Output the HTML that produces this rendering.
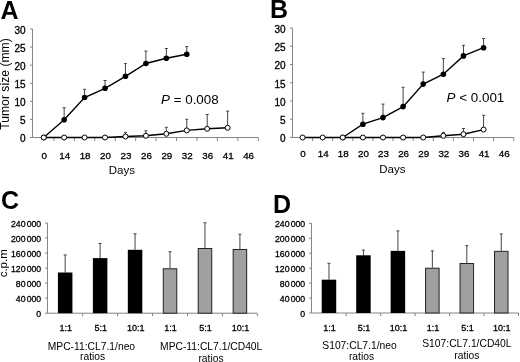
<!DOCTYPE html><html><head><meta charset="utf-8"><style>html,body{margin:0;padding:0;background:#fff;}svg{display:block;filter:blur(0.3px);} text.t{stroke:#000;stroke-width:0.3px;}</style></head><body>
<svg width="520" height="362" viewBox="0 0 520 362" font-family='"Liberation Sans", sans-serif' fill="#000">
<rect width="520" height="362" fill="#fff"/>
<text x="0.5" y="18.8" font-size="25" text-anchor="start" font-weight="bold" font-style="normal" >A</text>
<text x="270" y="17.8" font-size="25" text-anchor="start" font-weight="bold" font-style="normal" >B</text>
<text x="1" y="208.6" font-size="25" text-anchor="start" font-weight="bold" font-style="normal" >C</text>
<text x="273" y="213.4" font-size="25" text-anchor="start" font-weight="bold" font-style="normal" >D</text>
<line x1="32.5" y1="29" x2="32.5" y2="137.5" stroke="#858585" stroke-width="1"/>
<line x1="30" y1="137.5" x2="32.5" y2="137.5" stroke="#858585" stroke-width="1"/>
<text x="25.5" y="142.4" font-size="10" text-anchor="end" font-weight="normal" font-style="normal" class="t">0</text>
<line x1="30" y1="119.42" x2="32.5" y2="119.42" stroke="#858585" stroke-width="1"/>
<text x="25.5" y="124.32" font-size="10" text-anchor="end" font-weight="normal" font-style="normal" class="t">5</text>
<line x1="30" y1="101.33" x2="32.5" y2="101.33" stroke="#858585" stroke-width="1"/>
<text x="25.5" y="106.23" font-size="10" text-anchor="end" font-weight="normal" font-style="normal" class="t">10</text>
<line x1="30" y1="83.25" x2="32.5" y2="83.25" stroke="#858585" stroke-width="1"/>
<text x="25.5" y="88.15" font-size="10" text-anchor="end" font-weight="normal" font-style="normal" class="t">15</text>
<line x1="30" y1="65.17" x2="32.5" y2="65.17" stroke="#858585" stroke-width="1"/>
<text x="25.5" y="70.07" font-size="10" text-anchor="end" font-weight="normal" font-style="normal" class="t">20</text>
<line x1="30" y1="47.08" x2="32.5" y2="47.08" stroke="#858585" stroke-width="1"/>
<text x="25.5" y="51.98" font-size="10" text-anchor="end" font-weight="normal" font-style="normal" class="t">25</text>
<line x1="30" y1="29" x2="32.5" y2="29" stroke="#858585" stroke-width="1"/>
<text x="25.5" y="33.9" font-size="10" text-anchor="end" font-weight="normal" font-style="normal" class="t">30</text>
<line x1="32.5" y1="137.5" x2="258.3" y2="137.5" stroke="#858585" stroke-width="1"/>
<line x1="53.94" y1="137.5" x2="53.94" y2="141" stroke="#858585" stroke-width="1"/>
<line x1="74.37" y1="137.5" x2="74.37" y2="141" stroke="#858585" stroke-width="1"/>
<line x1="94.81" y1="137.5" x2="94.81" y2="141" stroke="#858585" stroke-width="1"/>
<line x1="115.25" y1="137.5" x2="115.25" y2="141" stroke="#858585" stroke-width="1"/>
<line x1="135.68" y1="137.5" x2="135.68" y2="141" stroke="#858585" stroke-width="1"/>
<line x1="156.12" y1="137.5" x2="156.12" y2="141" stroke="#858585" stroke-width="1"/>
<line x1="176.55" y1="137.5" x2="176.55" y2="141" stroke="#858585" stroke-width="1"/>
<line x1="196.99" y1="137.5" x2="196.99" y2="141" stroke="#858585" stroke-width="1"/>
<line x1="217.43" y1="137.5" x2="217.43" y2="141" stroke="#858585" stroke-width="1"/>
<line x1="237.86" y1="137.5" x2="237.86" y2="141" stroke="#858585" stroke-width="1"/>
<line x1="258.3" y1="137.5" x2="258.3" y2="141" stroke="#858585" stroke-width="1"/>
<text x="44.22" y="159.4" font-size="9.8" text-anchor="middle" font-weight="normal" font-style="normal" class="t">0</text>
<text x="64.65" y="159.4" font-size="9.8" text-anchor="middle" font-weight="normal" font-style="normal" class="t">14</text>
<text x="85.09" y="159.4" font-size="9.8" text-anchor="middle" font-weight="normal" font-style="normal" class="t">18</text>
<text x="105.53" y="159.4" font-size="9.8" text-anchor="middle" font-weight="normal" font-style="normal" class="t">20</text>
<text x="125.96" y="159.4" font-size="9.8" text-anchor="middle" font-weight="normal" font-style="normal" class="t">23</text>
<text x="146.4" y="159.4" font-size="9.8" text-anchor="middle" font-weight="normal" font-style="normal" class="t">26</text>
<text x="166.84" y="159.4" font-size="9.8" text-anchor="middle" font-weight="normal" font-style="normal" class="t">29</text>
<text x="187.27" y="159.4" font-size="9.8" text-anchor="middle" font-weight="normal" font-style="normal" class="t">32</text>
<text x="207.71" y="159.4" font-size="9.8" text-anchor="middle" font-weight="normal" font-style="normal" class="t">36</text>
<text x="228.15" y="159.4" font-size="9.8" text-anchor="middle" font-weight="normal" font-style="normal" class="t">41</text>
<text x="248.58" y="159.4" font-size="9.8" text-anchor="middle" font-weight="normal" font-style="normal" class="t">46</text>
<text x="121.8" y="173.6" font-size="11.5" text-anchor="middle" font-weight="normal" font-style="normal" >Days</text>
<line x1="64.15" y1="107.7" x2="64.15" y2="119.8" stroke="#444" stroke-width="1"/>
<line x1="62.65" y1="107.7" x2="65.65" y2="107.7" stroke="#444" stroke-width="1"/>
<line x1="84.59" y1="89.3" x2="84.59" y2="97.5" stroke="#444" stroke-width="1"/>
<line x1="83.09" y1="89.3" x2="86.09" y2="89.3" stroke="#444" stroke-width="1"/>
<line x1="105.03" y1="80.5" x2="105.03" y2="88.3" stroke="#444" stroke-width="1"/>
<line x1="103.53" y1="80.5" x2="106.53" y2="80.5" stroke="#444" stroke-width="1"/>
<line x1="125.46" y1="63.6" x2="125.46" y2="76.3" stroke="#444" stroke-width="1"/>
<line x1="123.96" y1="63.6" x2="126.96" y2="63.6" stroke="#444" stroke-width="1"/>
<line x1="145.9" y1="51.1" x2="145.9" y2="63.5" stroke="#444" stroke-width="1"/>
<line x1="144.4" y1="51.1" x2="147.4" y2="51.1" stroke="#444" stroke-width="1"/>
<line x1="166.34" y1="48.5" x2="166.34" y2="58.2" stroke="#444" stroke-width="1"/>
<line x1="164.84" y1="48.5" x2="167.84" y2="48.5" stroke="#444" stroke-width="1"/>
<line x1="186.77" y1="46.6" x2="186.77" y2="54.3" stroke="#444" stroke-width="1"/>
<line x1="185.27" y1="46.6" x2="188.27" y2="46.6" stroke="#444" stroke-width="1"/>
<line x1="125.46" y1="132.4" x2="125.46" y2="136.5" stroke="#444" stroke-width="1"/>
<line x1="123.96" y1="132.4" x2="126.96" y2="132.4" stroke="#444" stroke-width="1"/>
<line x1="145.9" y1="130.8" x2="145.9" y2="135.8" stroke="#444" stroke-width="1"/>
<line x1="144.4" y1="130.8" x2="147.4" y2="130.8" stroke="#444" stroke-width="1"/>
<line x1="166.34" y1="127.3" x2="166.34" y2="133.8" stroke="#444" stroke-width="1"/>
<line x1="164.84" y1="127.3" x2="167.84" y2="127.3" stroke="#444" stroke-width="1"/>
<line x1="186.77" y1="119.3" x2="186.77" y2="130.4" stroke="#444" stroke-width="1"/>
<line x1="185.27" y1="119.3" x2="188.27" y2="119.3" stroke="#444" stroke-width="1"/>
<line x1="207.21" y1="114.5" x2="207.21" y2="128.8" stroke="#444" stroke-width="1"/>
<line x1="205.71" y1="114.5" x2="208.71" y2="114.5" stroke="#444" stroke-width="1"/>
<line x1="227.65" y1="111.1" x2="227.65" y2="127.8" stroke="#444" stroke-width="1"/>
<line x1="226.15" y1="111.1" x2="229.15" y2="111.1" stroke="#444" stroke-width="1"/>
<polyline points="43.72,137.5 64.15,137.5 84.59,137.5 105.03,137.5 125.46,136.5 145.9,135.8 166.34,133.8 186.77,130.4 207.21,128.8 227.65,127.8" fill="none" stroke="#000" stroke-width="1.4"/>
<polyline points="43.72,137.5 64.15,119.8 84.59,97.5 105.03,88.3 125.46,76.3 145.9,63.5 166.34,58.2 186.77,54.3" fill="none" stroke="#000" stroke-width="1.4"/>
<circle cx="43.72" cy="137.5" r="2.8" fill="#000"/>
<circle cx="64.15" cy="119.8" r="2.8" fill="#000"/>
<circle cx="84.59" cy="97.5" r="2.8" fill="#000"/>
<circle cx="105.03" cy="88.3" r="2.8" fill="#000"/>
<circle cx="125.46" cy="76.3" r="2.8" fill="#000"/>
<circle cx="145.9" cy="63.5" r="2.8" fill="#000"/>
<circle cx="166.34" cy="58.2" r="2.8" fill="#000"/>
<circle cx="186.77" cy="54.3" r="2.8" fill="#000"/>
<circle cx="43.72" cy="137.5" r="2.5" fill="#fff" stroke="#000" stroke-width="1"/>
<circle cx="64.15" cy="137.5" r="2.5" fill="#fff" stroke="#000" stroke-width="1"/>
<circle cx="84.59" cy="137.5" r="2.5" fill="#fff" stroke="#000" stroke-width="1"/>
<circle cx="105.03" cy="137.5" r="2.5" fill="#fff" stroke="#000" stroke-width="1"/>
<circle cx="125.46" cy="136.5" r="2.5" fill="#fff" stroke="#000" stroke-width="1"/>
<circle cx="145.9" cy="135.8" r="2.5" fill="#fff" stroke="#000" stroke-width="1"/>
<circle cx="166.34" cy="133.8" r="2.5" fill="#fff" stroke="#000" stroke-width="1"/>
<circle cx="186.77" cy="130.4" r="2.5" fill="#fff" stroke="#000" stroke-width="1"/>
<circle cx="207.21" cy="128.8" r="2.5" fill="#fff" stroke="#000" stroke-width="1"/>
<circle cx="227.65" cy="127.8" r="2.5" fill="#fff" stroke="#000" stroke-width="1"/>
<text transform="translate(9,84) rotate(-90)" font-size="12.2" text-anchor="middle">Tumor size (mm)</text>
<text x="161" y="103.6" font-size="13.4"><tspan font-style="italic">P</tspan> = 0.008</text>
<line x1="292.5" y1="28" x2="292.5" y2="137.5" stroke="#858585" stroke-width="1"/>
<line x1="290" y1="137.5" x2="292.5" y2="137.5" stroke="#858585" stroke-width="1"/>
<text x="285.5" y="142.4" font-size="10" text-anchor="end" font-weight="normal" font-style="normal" class="t">0</text>
<line x1="290" y1="119.25" x2="292.5" y2="119.25" stroke="#858585" stroke-width="1"/>
<text x="285.5" y="124.15" font-size="10" text-anchor="end" font-weight="normal" font-style="normal" class="t">5</text>
<line x1="290" y1="101" x2="292.5" y2="101" stroke="#858585" stroke-width="1"/>
<text x="285.5" y="105.9" font-size="10" text-anchor="end" font-weight="normal" font-style="normal" class="t">10</text>
<line x1="290" y1="82.75" x2="292.5" y2="82.75" stroke="#858585" stroke-width="1"/>
<text x="285.5" y="87.65" font-size="10" text-anchor="end" font-weight="normal" font-style="normal" class="t">15</text>
<line x1="290" y1="64.5" x2="292.5" y2="64.5" stroke="#858585" stroke-width="1"/>
<text x="285.5" y="69.4" font-size="10" text-anchor="end" font-weight="normal" font-style="normal" class="t">20</text>
<line x1="290" y1="46.25" x2="292.5" y2="46.25" stroke="#858585" stroke-width="1"/>
<text x="285.5" y="51.15" font-size="10" text-anchor="end" font-weight="normal" font-style="normal" class="t">25</text>
<line x1="290" y1="28" x2="292.5" y2="28" stroke="#858585" stroke-width="1"/>
<text x="285.5" y="32.9" font-size="10" text-anchor="end" font-weight="normal" font-style="normal" class="t">30</text>
<line x1="292.5" y1="137.5" x2="513.75" y2="137.5" stroke="#858585" stroke-width="1"/>
<line x1="312.61" y1="137.5" x2="312.61" y2="141" stroke="#858585" stroke-width="1"/>
<line x1="332.73" y1="137.5" x2="332.73" y2="141" stroke="#858585" stroke-width="1"/>
<line x1="352.84" y1="137.5" x2="352.84" y2="141" stroke="#858585" stroke-width="1"/>
<line x1="372.95" y1="137.5" x2="372.95" y2="141" stroke="#858585" stroke-width="1"/>
<line x1="393.07" y1="137.5" x2="393.07" y2="141" stroke="#858585" stroke-width="1"/>
<line x1="413.18" y1="137.5" x2="413.18" y2="141" stroke="#858585" stroke-width="1"/>
<line x1="433.3" y1="137.5" x2="433.3" y2="141" stroke="#858585" stroke-width="1"/>
<line x1="453.41" y1="137.5" x2="453.41" y2="141" stroke="#858585" stroke-width="1"/>
<line x1="473.52" y1="137.5" x2="473.52" y2="141" stroke="#858585" stroke-width="1"/>
<line x1="493.64" y1="137.5" x2="493.64" y2="141" stroke="#858585" stroke-width="1"/>
<line x1="513.75" y1="137.5" x2="513.75" y2="141" stroke="#858585" stroke-width="1"/>
<text x="303.06" y="157.1" font-size="9.8" text-anchor="middle" font-weight="normal" font-style="normal" class="t">0</text>
<text x="323.17" y="157.1" font-size="9.8" text-anchor="middle" font-weight="normal" font-style="normal" class="t">14</text>
<text x="343.28" y="157.1" font-size="9.8" text-anchor="middle" font-weight="normal" font-style="normal" class="t">18</text>
<text x="363.4" y="157.1" font-size="9.8" text-anchor="middle" font-weight="normal" font-style="normal" class="t">20</text>
<text x="383.51" y="157.1" font-size="9.8" text-anchor="middle" font-weight="normal" font-style="normal" class="t">23</text>
<text x="403.62" y="157.1" font-size="9.8" text-anchor="middle" font-weight="normal" font-style="normal" class="t">26</text>
<text x="423.74" y="157.1" font-size="9.8" text-anchor="middle" font-weight="normal" font-style="normal" class="t">29</text>
<text x="443.85" y="157.1" font-size="9.8" text-anchor="middle" font-weight="normal" font-style="normal" class="t">32</text>
<text x="463.97" y="157.1" font-size="9.8" text-anchor="middle" font-weight="normal" font-style="normal" class="t">36</text>
<text x="484.08" y="157.1" font-size="9.8" text-anchor="middle" font-weight="normal" font-style="normal" class="t">41</text>
<text x="504.19" y="157.1" font-size="9.8" text-anchor="middle" font-weight="normal" font-style="normal" class="t">46</text>
<text x="392.3" y="172.9" font-size="11.5" text-anchor="middle" font-weight="normal" font-style="normal" >Days</text>
<line x1="362.9" y1="113.3" x2="362.9" y2="124.2" stroke="#444" stroke-width="1"/>
<line x1="361.4" y1="113.3" x2="364.4" y2="113.3" stroke="#444" stroke-width="1"/>
<line x1="383.01" y1="104.1" x2="383.01" y2="117.6" stroke="#444" stroke-width="1"/>
<line x1="381.51" y1="104.1" x2="384.51" y2="104.1" stroke="#444" stroke-width="1"/>
<line x1="403.12" y1="87.3" x2="403.12" y2="106.6" stroke="#444" stroke-width="1"/>
<line x1="401.62" y1="87.3" x2="404.62" y2="87.3" stroke="#444" stroke-width="1"/>
<line x1="423.24" y1="72.1" x2="423.24" y2="84.1" stroke="#444" stroke-width="1"/>
<line x1="421.74" y1="72.1" x2="424.74" y2="72.1" stroke="#444" stroke-width="1"/>
<line x1="443.35" y1="58.6" x2="443.35" y2="74.2" stroke="#444" stroke-width="1"/>
<line x1="441.85" y1="58.6" x2="444.85" y2="58.6" stroke="#444" stroke-width="1"/>
<line x1="463.47" y1="45.3" x2="463.47" y2="55.9" stroke="#444" stroke-width="1"/>
<line x1="461.97" y1="45.3" x2="464.97" y2="45.3" stroke="#444" stroke-width="1"/>
<line x1="483.58" y1="38.5" x2="483.58" y2="47.7" stroke="#444" stroke-width="1"/>
<line x1="482.08" y1="38.5" x2="485.08" y2="38.5" stroke="#444" stroke-width="1"/>
<line x1="443.35" y1="132.4" x2="443.35" y2="135.8" stroke="#444" stroke-width="1"/>
<line x1="441.85" y1="132.4" x2="444.85" y2="132.4" stroke="#444" stroke-width="1"/>
<line x1="463.47" y1="128.5" x2="463.47" y2="134.2" stroke="#444" stroke-width="1"/>
<line x1="461.97" y1="128.5" x2="464.97" y2="128.5" stroke="#444" stroke-width="1"/>
<line x1="483.58" y1="115.3" x2="483.58" y2="129.6" stroke="#444" stroke-width="1"/>
<line x1="482.08" y1="115.3" x2="485.08" y2="115.3" stroke="#444" stroke-width="1"/>
<polyline points="302.56,137.5 322.67,137.5 342.78,137.5 362.9,137.5 383.01,137.5 403.12,137.5 423.24,137.5 443.35,135.8 463.47,134.2 483.58,129.6" fill="none" stroke="#000" stroke-width="1.4"/>
<polyline points="342.78,137.5 362.9,124.2 383.01,117.6 403.12,106.6 423.24,84.1 443.35,74.2 463.47,55.9 483.58,47.7" fill="none" stroke="#000" stroke-width="1.4"/>
<circle cx="342.78" cy="137.5" r="2.8" fill="#000"/>
<circle cx="362.9" cy="124.2" r="2.8" fill="#000"/>
<circle cx="383.01" cy="117.6" r="2.8" fill="#000"/>
<circle cx="403.12" cy="106.6" r="2.8" fill="#000"/>
<circle cx="423.24" cy="84.1" r="2.8" fill="#000"/>
<circle cx="443.35" cy="74.2" r="2.8" fill="#000"/>
<circle cx="463.47" cy="55.9" r="2.8" fill="#000"/>
<circle cx="483.58" cy="47.7" r="2.8" fill="#000"/>
<circle cx="302.56" cy="137.5" r="2.5" fill="#fff" stroke="#000" stroke-width="1"/>
<circle cx="322.67" cy="137.5" r="2.5" fill="#fff" stroke="#000" stroke-width="1"/>
<circle cx="342.78" cy="137.5" r="2.5" fill="#fff" stroke="#000" stroke-width="1"/>
<circle cx="362.9" cy="137.5" r="2.5" fill="#fff" stroke="#000" stroke-width="1"/>
<circle cx="383.01" cy="137.5" r="2.5" fill="#fff" stroke="#000" stroke-width="1"/>
<circle cx="403.12" cy="137.5" r="2.5" fill="#fff" stroke="#000" stroke-width="1"/>
<circle cx="423.24" cy="137.5" r="2.5" fill="#fff" stroke="#000" stroke-width="1"/>
<circle cx="443.35" cy="135.8" r="2.5" fill="#fff" stroke="#000" stroke-width="1"/>
<circle cx="463.47" cy="134.2" r="2.5" fill="#fff" stroke="#000" stroke-width="1"/>
<circle cx="483.58" cy="129.6" r="2.5" fill="#fff" stroke="#000" stroke-width="1"/>
<text x="446.6" y="101.6" font-size="13.4"><tspan font-style="italic">P</tspan> &lt; 0.001</text>
<line x1="47.5" y1="223" x2="47.5" y2="313.2" stroke="#858585" stroke-width="1"/>
<line x1="45" y1="313.2" x2="47.5" y2="313.2" stroke="#858585" stroke-width="1"/>
<text x="41.2" y="317" font-size="8.7" text-anchor="end" font-weight="normal" font-style="normal" class="t">0</text>
<line x1="45" y1="298.17" x2="47.5" y2="298.17" stroke="#858585" stroke-width="1"/>
<text x="41.2" y="301.97" font-size="8.7" text-anchor="end" font-weight="normal" font-style="normal" class="t">40<tspan dx="1.2">000</tspan></text>
<line x1="45" y1="283.13" x2="47.5" y2="283.13" stroke="#858585" stroke-width="1"/>
<text x="41.2" y="286.93" font-size="8.7" text-anchor="end" font-weight="normal" font-style="normal" class="t">80<tspan dx="1.2">000</tspan></text>
<line x1="45" y1="268.1" x2="47.5" y2="268.1" stroke="#858585" stroke-width="1"/>
<text x="41.2" y="271.9" font-size="8.7" text-anchor="end" font-weight="normal" font-style="normal" class="t">120<tspan dx="1.2">000</tspan></text>
<line x1="45" y1="253.07" x2="47.5" y2="253.07" stroke="#858585" stroke-width="1"/>
<text x="41.2" y="256.87" font-size="8.7" text-anchor="end" font-weight="normal" font-style="normal" class="t">160<tspan dx="1.2">000</tspan></text>
<line x1="45" y1="238.03" x2="47.5" y2="238.03" stroke="#858585" stroke-width="1"/>
<text x="41.2" y="241.83" font-size="8.7" text-anchor="end" font-weight="normal" font-style="normal" class="t">200<tspan dx="1.2">000</tspan></text>
<line x1="45" y1="223" x2="47.5" y2="223" stroke="#858585" stroke-width="1"/>
<text x="41.2" y="226.8" font-size="8.7" text-anchor="end" font-weight="normal" font-style="normal" class="t">240<tspan dx="1.2">000</tspan></text>
<line x1="47.5" y1="313.2" x2="257.4" y2="313.2" stroke="#858585" stroke-width="1"/>
<line x1="82.65" y1="313.2" x2="82.65" y2="316.2" stroke="#858585" stroke-width="1"/>
<line x1="117.6" y1="313.2" x2="117.6" y2="316.2" stroke="#858585" stroke-width="1"/>
<line x1="152.55" y1="313.2" x2="152.55" y2="316.2" stroke="#858585" stroke-width="1"/>
<line x1="187.5" y1="313.2" x2="187.5" y2="316.2" stroke="#858585" stroke-width="1"/>
<line x1="222.45" y1="313.2" x2="222.45" y2="316.2" stroke="#858585" stroke-width="1"/>
<line x1="257.4" y1="313.2" x2="257.4" y2="316.2" stroke="#858585" stroke-width="1"/>
<line x1="65.17" y1="254.98" x2="65.17" y2="272.5" stroke="#444" stroke-width="1"/>
<line x1="63.67" y1="254.98" x2="66.67" y2="254.98" stroke="#444" stroke-width="1"/>
<rect x="57.92" y="272.5" width="14.5" height="40.7" fill="#000"/>
<line x1="100.12" y1="243.48" x2="100.12" y2="258.1" stroke="#444" stroke-width="1"/>
<line x1="98.62" y1="243.48" x2="101.62" y2="243.48" stroke="#444" stroke-width="1"/>
<rect x="92.88" y="258.1" width="14.5" height="55.1" fill="#000"/>
<line x1="135.07" y1="233.79" x2="135.07" y2="249.8" stroke="#444" stroke-width="1"/>
<line x1="133.57" y1="233.79" x2="136.57" y2="233.79" stroke="#444" stroke-width="1"/>
<rect x="127.82" y="249.8" width="14.5" height="63.4" fill="#000"/>
<line x1="170.02" y1="251.79" x2="170.02" y2="268.29" stroke="#444" stroke-width="1"/>
<line x1="168.52" y1="251.79" x2="171.52" y2="251.79" stroke="#444" stroke-width="1"/>
<rect x="163.27" y="268.79" width="13.5" height="44.41" fill="#a0a0a0" stroke="#222" stroke-width="1"/>
<line x1="204.97" y1="222.74" x2="204.97" y2="247.99" stroke="#444" stroke-width="1"/>
<line x1="203.47" y1="222.74" x2="206.47" y2="222.74" stroke="#444" stroke-width="1"/>
<rect x="198.22" y="248.49" width="13.5" height="64.71" fill="#a0a0a0" stroke="#222" stroke-width="1"/>
<line x1="239.92" y1="234.24" x2="239.92" y2="248.97" stroke="#444" stroke-width="1"/>
<line x1="238.42" y1="234.24" x2="241.42" y2="234.24" stroke="#444" stroke-width="1"/>
<rect x="233.17" y="249.47" width="13.5" height="63.73" fill="#a0a0a0" stroke="#222" stroke-width="1"/>
<text x="65.77" y="331.2" font-size="9" text-anchor="middle" font-weight="normal" font-style="normal" class="t">1:1</text>
<text x="100.72" y="331.2" font-size="9" text-anchor="middle" font-weight="normal" font-style="normal" class="t">5:1</text>
<text x="135.67" y="331.2" font-size="9" text-anchor="middle" font-weight="normal" font-style="normal" class="t">10:1</text>
<text x="170.62" y="331.2" font-size="9" text-anchor="middle" font-weight="normal" font-style="normal" class="t">1:1</text>
<text x="205.57" y="331.2" font-size="9" text-anchor="middle" font-weight="normal" font-style="normal" class="t">5:1</text>
<text x="240.52" y="331.2" font-size="9" text-anchor="middle" font-weight="normal" font-style="normal" class="t">10:1</text>
<text x="91.4" y="349.8" font-size="10.3" text-anchor="middle" font-weight="normal" font-style="normal" >MPC-11:CL7.1/neo</text>
<text x="211.2" y="349.8" font-size="10.3" text-anchor="middle" font-weight="normal" font-style="normal" >MPC-11:CL7.1/CD40L</text>
<text x="92.6" y="360.3" font-size="10.3" text-anchor="middle" font-weight="normal" font-style="normal" >ratios</text>
<text x="211" y="361.8" font-size="10.3" text-anchor="middle" font-weight="normal" font-style="normal" >ratios</text>
<text transform="translate(6.8,263.3) rotate(-90)" font-size="11.5" text-anchor="middle">c.p.m</text>
<line x1="311.5" y1="223.3" x2="311.5" y2="313" stroke="#858585" stroke-width="1"/>
<line x1="309" y1="313" x2="311.5" y2="313" stroke="#858585" stroke-width="1"/>
<text x="305.2" y="316.8" font-size="8.7" text-anchor="end" font-weight="normal" font-style="normal" class="t">0</text>
<line x1="309" y1="298.05" x2="311.5" y2="298.05" stroke="#858585" stroke-width="1"/>
<text x="305.2" y="301.85" font-size="8.7" text-anchor="end" font-weight="normal" font-style="normal" class="t">40<tspan dx="1.2">000</tspan></text>
<line x1="309" y1="283.1" x2="311.5" y2="283.1" stroke="#858585" stroke-width="1"/>
<text x="305.2" y="286.9" font-size="8.7" text-anchor="end" font-weight="normal" font-style="normal" class="t">80<tspan dx="1.2">000</tspan></text>
<line x1="309" y1="268.15" x2="311.5" y2="268.15" stroke="#858585" stroke-width="1"/>
<text x="305.2" y="271.95" font-size="8.7" text-anchor="end" font-weight="normal" font-style="normal" class="t">120<tspan dx="1.2">000</tspan></text>
<line x1="309" y1="253.2" x2="311.5" y2="253.2" stroke="#858585" stroke-width="1"/>
<text x="305.2" y="257" font-size="8.7" text-anchor="end" font-weight="normal" font-style="normal" class="t">160<tspan dx="1.2">000</tspan></text>
<line x1="309" y1="238.25" x2="311.5" y2="238.25" stroke="#858585" stroke-width="1"/>
<text x="305.2" y="242.05" font-size="8.7" text-anchor="end" font-weight="normal" font-style="normal" class="t">200<tspan dx="1.2">000</tspan></text>
<line x1="309" y1="223.3" x2="311.5" y2="223.3" stroke="#858585" stroke-width="1"/>
<text x="305.2" y="227.1" font-size="8.7" text-anchor="end" font-weight="normal" font-style="normal" class="t">240<tspan dx="1.2">000</tspan></text>
<line x1="311.5" y1="313" x2="518.5" y2="313" stroke="#858585" stroke-width="1"/>
<line x1="346.21" y1="313" x2="346.21" y2="316" stroke="#858585" stroke-width="1"/>
<line x1="380.67" y1="313" x2="380.67" y2="316" stroke="#858585" stroke-width="1"/>
<line x1="415.12" y1="313" x2="415.12" y2="316" stroke="#858585" stroke-width="1"/>
<line x1="449.58" y1="313" x2="449.58" y2="316" stroke="#858585" stroke-width="1"/>
<line x1="484.04" y1="313" x2="484.04" y2="316" stroke="#858585" stroke-width="1"/>
<line x1="518.5" y1="313" x2="518.5" y2="316" stroke="#858585" stroke-width="1"/>
<line x1="328.98" y1="263.29" x2="328.98" y2="279.68" stroke="#444" stroke-width="1"/>
<line x1="327.48" y1="263.29" x2="330.48" y2="263.29" stroke="#444" stroke-width="1"/>
<rect x="321.73" y="279.68" width="14.5" height="33.32" fill="#000"/>
<line x1="363.44" y1="250.1" x2="363.44" y2="255.29" stroke="#444" stroke-width="1"/>
<line x1="361.94" y1="250.1" x2="364.94" y2="250.1" stroke="#444" stroke-width="1"/>
<rect x="356.19" y="255.29" width="14.5" height="57.71" fill="#000"/>
<line x1="397.9" y1="230.92" x2="397.9" y2="250.85" stroke="#444" stroke-width="1"/>
<line x1="396.4" y1="230.92" x2="399.4" y2="230.92" stroke="#444" stroke-width="1"/>
<rect x="390.65" y="250.85" width="14.5" height="62.15" fill="#000"/>
<line x1="432.35" y1="250.85" x2="432.35" y2="267.74" stroke="#444" stroke-width="1"/>
<line x1="430.85" y1="250.85" x2="433.85" y2="250.85" stroke="#444" stroke-width="1"/>
<rect x="425.6" y="268.24" width="13.5" height="44.76" fill="#a0a0a0" stroke="#222" stroke-width="1"/>
<line x1="466.81" y1="245.61" x2="466.81" y2="263.03" stroke="#444" stroke-width="1"/>
<line x1="465.31" y1="245.61" x2="468.31" y2="245.61" stroke="#444" stroke-width="1"/>
<rect x="460.06" y="263.53" width="13.5" height="49.47" fill="#a0a0a0" stroke="#222" stroke-width="1"/>
<line x1="501.27" y1="233.91" x2="501.27" y2="250.85" stroke="#444" stroke-width="1"/>
<line x1="499.77" y1="233.91" x2="502.77" y2="233.91" stroke="#444" stroke-width="1"/>
<rect x="494.52" y="251.35" width="13.5" height="61.65" fill="#a0a0a0" stroke="#222" stroke-width="1"/>
<text x="329.58" y="331.2" font-size="9" text-anchor="middle" font-weight="normal" font-style="normal" class="t">1:1</text>
<text x="364.04" y="331.2" font-size="9" text-anchor="middle" font-weight="normal" font-style="normal" class="t">5:1</text>
<text x="398.5" y="331.2" font-size="9" text-anchor="middle" font-weight="normal" font-style="normal" class="t">10:1</text>
<text x="432.95" y="331.2" font-size="9" text-anchor="middle" font-weight="normal" font-style="normal" class="t">1:1</text>
<text x="467.41" y="331.2" font-size="9" text-anchor="middle" font-weight="normal" font-style="normal" class="t">5:1</text>
<text x="501.87" y="331.2" font-size="9" text-anchor="middle" font-weight="normal" font-style="normal" class="t">10:1</text>
<text x="359.5" y="348.5" font-size="10.3" text-anchor="middle" font-weight="normal" font-style="normal" >S107:CL7.1/neo</text>
<text x="466.9" y="347" font-size="10.3" text-anchor="middle" font-weight="normal" font-style="normal" >S107:CL7.1/CD40L</text>
<text x="361.5" y="359.7" font-size="10.3" text-anchor="middle" font-weight="normal" font-style="normal" >ratios</text>
<text x="466.9" y="358.7" font-size="10.3" text-anchor="middle" font-weight="normal" font-style="normal" >ratios</text>
</svg></body></html>
